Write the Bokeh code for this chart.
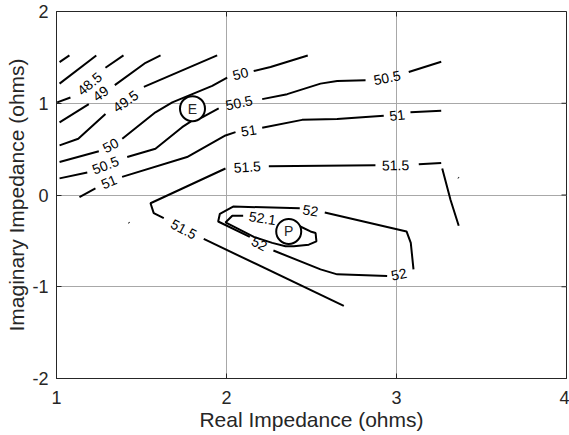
import math
from bokeh.plotting import figure
from bokeh.models import FixedTicker, Range1d
from bokeh.core.properties import value
from bokeh.embed import file_html
from bokeh.resources import INLINE

# contour pieces (level, x list, y list)
piece_level = [47.5, 48, 48.5, 48.5, 49, 49, 49.5, 49.5, 50, 50, 50,
               50.5, 50.5, 50.5, 50.5, 51, 51, 51, 51,
               51.5, 51.5, 51.5, 51.5, 51.5, 52, 52, 52, 52.1, 51.5, 51.5]
piece_x = [
    [1.018, 1.076],
    [1.018, 1.234],
    [1.004, 1.082],
    [1.288, 1.394],
    [1.018, 1.190],
    [1.343, 1.524, 1.612],
    [1.018, 1.128, 1.288],
    [1.514, 1.945],
    [1.018, 1.249],
    [1.387, 1.582, 1.681, 1.916, 2.004],
    [2.160, 2.259, 2.478],
    [1.018, 1.181],
    [1.416, 1.582, 1.739, 1.798, 1.857, 1.954],
    [2.210, 2.357, 2.553, 2.651, 2.818],
    [3.072, 3.263],
    [1.135, 1.229],
    [1.386, 1.768, 1.994, 2.053],
    [2.210, 2.445, 2.651, 2.925],
    [3.082, 3.263],
    [2.690, 1.866],
    [1.631, 1.572, 1.553, 1.994],
    [2.249, 2.876],
    [3.131, 3.263],
    [3.269, 3.318, 3.366],
    [2.137, 1.951, 1.961, 2.039, 2.431],
    [2.578, 3.059, 3.084, 3.100],
    [2.945, 2.651, 2.553, 2.276],
    [2.335, 2.425, 2.494, 2.524, 2.529, 2.484, 2.396, 2.347, 2.269, 2.161, 1.994, 2.034, 2.098],
    [1.425, 1.428],
    [3.363, 3.366],
]
piece_y = [
    [1.449, 1.521],
    [1.214, 1.521],
    [1.009, 1.063],
    [1.387, 1.521],
    [0.792, 0.991],
    [1.197, 1.441, 1.521],
    [0.541, 0.613, 0.883],
    [1.178, 1.521],
    [0.360, 0.476],
    [0.613, 0.901, 1.009, 1.189, 1.279],
    [1.351, 1.395, 1.521],
    [0.181, 0.246],
    [0.414, 0.505, 0.739, 0.811, 0.847, 0.944],
    [1.045, 1.099, 1.214, 1.243, 1.251],
    [1.341, 1.452],
    [-0.022, 0.072],
    [0.198, 0.414, 0.649, 0.685],
    [0.732, 0.819, 0.829, 0.865],
    [0.901, 0.919],
    [-1.208, -0.479],
    [-0.252, -0.198, -0.090, 0.289],
    [0.314, 0.324],
    [0.335, 0.349],
    [0.289, -0.054, -0.335],
    [-0.457, -0.289, -0.205, -0.126, -0.144],
    [-0.191, -0.397, -0.522, -0.811],
    [-0.884, -0.865, -0.811, -0.605],
    [-0.303, -0.335, -0.397, -0.414, -0.505, -0.541, -0.559, -0.559, -0.522, -0.457, -0.299, -0.227, -0.227],
    [-0.299, -0.305],
    [0.191, 0.185],
]

# contour labels
label_text = ["48.5", "49", "49.5", "50", "50.5", "51", "50", "50.5", "50.5",
              "51", "51", "51.5", "51.5", "51.5", "52", "52", "52", "52.1"]
label_x = [1.194, 1.259, 1.406, 1.318, 1.288, 1.308, 2.082, 2.074, 2.945,
           2.131, 3.004, 2.122, 2.994, 1.749, 2.494, 3.014, 2.194, 2.212]
label_y = [1.214, 1.106, 1.022, 0.541, 0.324, 0.144, 1.322, 1.005, 1.279,
           0.703, 0.870, 0.306, 0.324, -0.373, -0.170, -0.865, -0.530, -0.252]
label_angle_deg = [40.6, 36, 35.5, 28, 21, 23, 14, 12, 11,
                   9, 7, 3, 1, -28, -9, 12, -28, -9]

# marked points
point_name = ["E", "P"]
point_x = [1.80, 2.366]
point_y = [0.941, -0.397]

x_ticks = [1, 2, 3, 4]
y_ticks = [-2, -1, 0, 1, 2]
x_tick_labels = ["1", "2", "3", "4"]
y_tick_labels = ["-2", "-1", "0", "1", "2"]

FONT = "Liberation Sans"
TXT = "#262626"

p = figure(width=569, height=435, output_backend="svg", toolbar_location=None,
           x_range=Range1d(1, 4), y_range=Range1d(-2, 2),
           min_border_left=56, min_border_top=11, min_border_right=3, min_border_bottom=57)
p.background_fill_color = "white"
p.border_fill_color = "white"
p.outline_line_color = TXT
p.outline_line_width = 1

for ax in (p.xaxis[0], p.yaxis[0]):
    ax.major_tick_in = 5
    ax.major_tick_out = 0
    ax.minor_tick_in = 0
    ax.minor_tick_out = 0
    ax.axis_line_color = TXT
    ax.major_tick_line_color = TXT
    ax.major_label_text_font = FONT
    ax.major_label_text_font_size = "18px"
    ax.major_label_text_color = TXT
    ax.axis_label_text_font = FONT
    ax.axis_label_text_font_size = "21px"
    ax.axis_label_text_font_style = "normal"
    ax.axis_label_text_color = TXT

p.xaxis.ticker = FixedTicker(ticks=x_ticks)
p.yaxis.ticker = FixedTicker(ticks=y_ticks)
p.xaxis.major_label_overrides = dict(zip(x_ticks, x_tick_labels))
p.yaxis.major_label_overrides = dict(zip(y_ticks, y_tick_labels))
p.xaxis.axis_label = "Real Impedance (ohms)"
p.yaxis.axis_label = "Imaginary Impedance (ohms)"
p.xaxis.major_label_standoff = 12
p.yaxis.major_label_standoff = 8
p.xaxis.axis_label_standoff = 1
p.yaxis.axis_label_standoff = 1

# inward ticks on the top and right edges of the box
p.ray(x=x_ticks, y=[2] * len(x_ticks), length=5, length_units="screen",
      angle=-math.pi / 2, line_color=TXT, line_width=1)
p.ray(x=[4] * len(y_ticks), y=y_ticks, length=5, length_units="screen",
      angle=math.pi, line_color=TXT, line_width=1)

p.xgrid.ticker = FixedTicker(ticks=x_ticks)
p.ygrid.ticker = FixedTicker(ticks=y_ticks)
p.grid.grid_line_color = "#a8a8a8"
p.grid.grid_line_width = 1

p.multi_line(xs=piece_x, ys=piece_y, line_color="black", line_width=2)

p.text(x=label_x, y=label_y, text=label_text,
       angle=[math.radians(a) for a in label_angle_deg],
       text_align="center", text_baseline="middle",
       text_font=value(FONT), text_font_size="14px", text_color="black")

p.scatter(x=point_x, y=point_y, marker="circle", size=25,
          fill_color="white", line_color="black", line_width=2)
p.text(x=point_x, y=point_y, text=point_name,
       text_align="center", text_baseline="middle",
       text_font=value(FONT), text_font_size="14px", text_color=TXT)

open("out.html", "w").write(file_html(p, INLINE))
